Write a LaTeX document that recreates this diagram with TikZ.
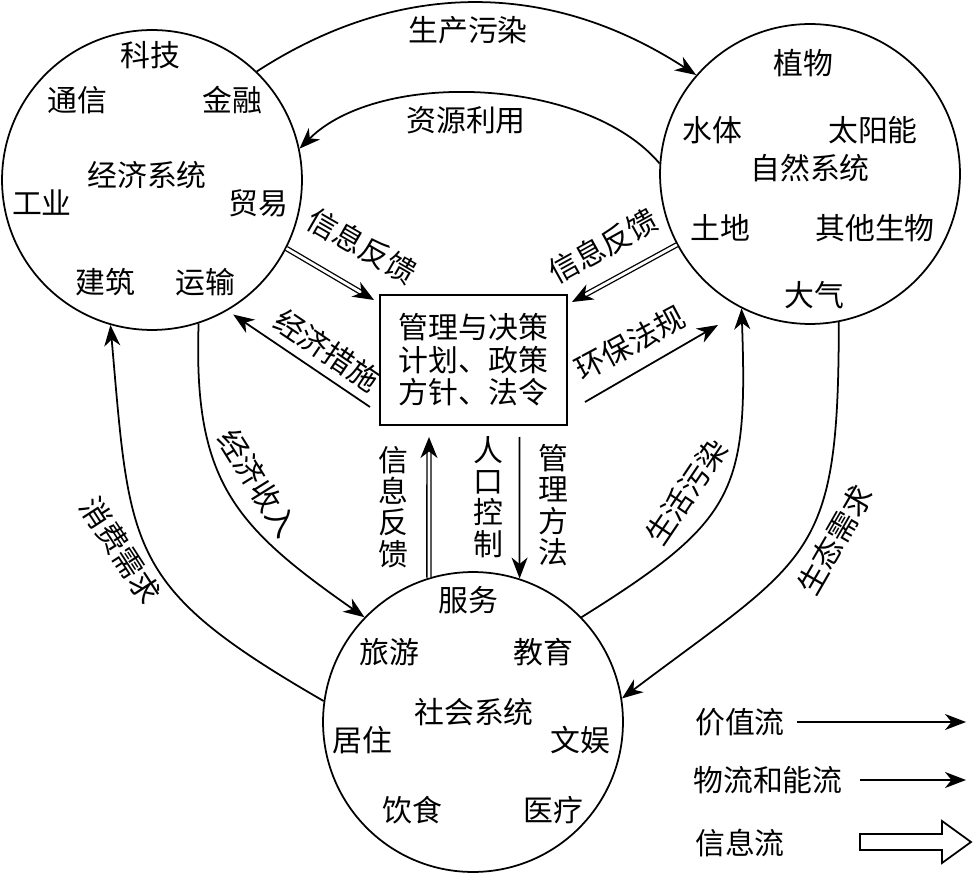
\documentclass[tikz,border=0pt]{standalone}
\usepackage{fontspec}
\setmainfont{Noto Sans CJK SC}
\usetikzlibrary{arrows.meta}

\begin{document}
\begin{tikzpicture}[
  x=0.02cm, y=-0.02cm,
  sys/.style={draw, circle, line width=1pt, minimum size=6cm, inner sep=0pt},
  box/.style={draw, line width=1pt, minimum width=3.74cm, minimum height=2.6cm, align=center, font=\fontsize{17}{18.5}\selectfont},
  lbl/.style={inner sep=0pt, font=\fontsize{17}{18}\selectfont},
  vlbl/.style={inner sep=0pt, align=center, font=\fontsize{17}{17.8}\selectfont},
  flow/.style={-{Stealth[length=4.2mm,width=3.2mm,inset=1.3mm]}, line width=1pt},
  info/.style={-{Stealth[length=4.2mm,width=3.4mm,inset=1.3mm]}, double, double distance=1.6pt, line width=0.75pt}
]
\useasboundingbox (0,0) rectangle (973,874);

\node[sys] (econ) at (152,180) {};
\node[sys] (nature) at (810,174) {};
\node[sys] (society) at (473,722) {};
\node[box] (plan) at (473.5,360) {管理与决策\\计划、政策\\方针、法令};

\node[lbl] (econ-tech) at (150,55) {科技};
\node[lbl] (econ-comm) at (77,100) {通信};
\node[lbl] (econ-fin) at (232,100) {金融};
\node[lbl] (econ-name) at (147,175) {经济系统};
\node[lbl] (econ-ind) at (42,203) {工业};
\node[lbl] (econ-trade) at (258,203) {贸易};
\node[lbl] (econ-build) at (105,282) {建筑};
\node[lbl] (econ-trans) at (205,282) {运输};

\node[lbl] (nat-plant) at (803,63) {植物};
\node[lbl] (nat-water) at (712,130) {水体};
\node[lbl] (nat-sun) at (873,130) {太阳能};
\node[lbl] (nat-name) at (810,168) {自然系统};
\node[lbl] (nat-land) at (720,228) {土地};
\node[lbl] (nat-bio) at (875,228) {其他生物};
\node[lbl] (nat-air) at (814,295) {大气};

\node[lbl] (soc-serv) at (468,600) {服务};
\node[lbl] (soc-tour) at (389,652) {旅游};
\node[lbl] (soc-edu) at (543,652) {教育};
\node[lbl] (soc-name) at (474,712) {社会系统};
\node[lbl] (soc-home) at (362,740) {居住};
\node[lbl] (soc-ent) at (580,740) {文娱};
\node[lbl] (soc-food) at (412,810) {饮食};
\node[lbl] (soc-med) at (553,810) {医疗};

\coordinate (fbL) at (374,300);
\coordinate (fbR) at (572,302);
\coordinate (ecoStart) at (370,407);
\coordinate (lawStart) at (585,402);
\coordinate (lawEnd) at (718,325);
\coordinate (fbUp) at (429,437);
\coordinate (ctrlTop) at (519.4,437);

\draw[flow] (econ.46) to[out=33,in=147] (nature.139);
\draw[flow] (nature.176) to[out=130,in=45,looseness=0.8] (econ.12);
\draw[flow] (econ.-72) to[out=-92,in=145,looseness=1.2] (society.136);
\draw[flow] (society.172) to[out=150,in=-85,looseness=1.35] (econ.-106);
\draw[flow] (society.44) to[out=32,in=-88,looseness=1.35] (nature.-117);
\draw[flow] (nature.-79) to[out=-90,in=37,looseness=1.4] (society.9);

\draw[info] (econ.-27) -- (fbL);
\draw[info] (nature.208) -- (fbR);
\draw[flow, shorten >=0.14cm] (ecoStart) -- (econ.-60);
\draw[flow] (lawStart) -- (lawEnd);
\draw[info] (society.107) -- (fbUp);
\draw[flow] (ctrlTop) -- (society.72);

\node[lbl] (lbl-prod) at (468,30) {生产污染};
\node[lbl] (lbl-res) at (466,120) {资源利用};
\node[lbl, rotate=-30] (lbl-fbL) at (362,246) {信息反馈};
\node[lbl, rotate=29] (lbl-fbR) at (603,246) {信息反馈};
\node[lbl, rotate=-34] (lbl-eco) at (327,350) {经济措施};
\node[lbl, rotate=28] (lbl-law) at (630,343) {环保法规};
\node[lbl, rotate=-58] (lbl-inc) at (258,483) {经济收入};
\node[lbl, rotate=-57] (lbl-cons) at (121,550) {消费需求};
\node[lbl, rotate=56] (lbl-life) at (686,492) {生活污染};
\node[lbl, rotate=60] (lbl-eco2) at (835,540) {生态需求};
\node[vlbl] (lbl-fbUp) at (393,507) {信\\息\\反\\馈};
\node[vlbl] (lbl-pop) at (488,497) {人\\口\\控\\制};
\node[vlbl] (lbl-man) at (553,505) {管\\理\\方\\法};

\node[lbl] (key-value) at (740,722) {价值流};
\node[lbl] (key-mat) at (768,780) {物流和能流};
\node[lbl] (key-info) at (740,843) {信息流};
\coordinate (valA) at (797,722);
\coordinate (valB) at (966,722);
\coordinate (matA) at (860,780);
\coordinate (matB) at (966,780);
\draw[flow] (valA) -- (valB);
\draw[flow] (matA) -- (matB);
\draw[line width=1pt, line join=miter] (860,834) -- (942,834) -- (942,821) -- (971,842) -- (942,863) -- (942,850) -- (860,850) -- cycle;
\end{tikzpicture}
\end{document}
